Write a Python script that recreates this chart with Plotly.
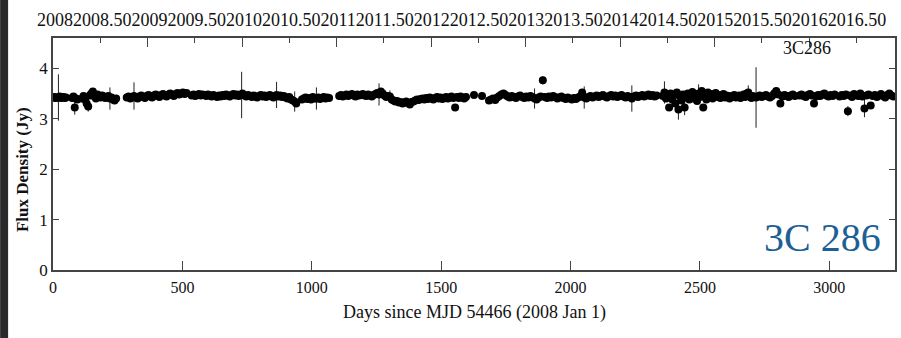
import plotly.graph_objects as go

# ---- data: (days since MJD 54466, flux density in Jy), per observing season ----
season_a = [(1,3.42),(6,3.43),(11,3.41),(16,3.42),(21,3.42),(26,3.44),(31,3.41),(36,3.42),(41,3.43),(46,3.41),(50,3.42)]
season_b = [(74,3.41),(79,3.44),(84,3.22),(89,3.40),(94,3.38)]
season_c = [(112,3.40),(118,3.45),(124,3.38),(130,3.30),(136,3.24),(142,3.46),(148,3.50),(154,3.54),(160,3.44),(166,3.40),
            (172,3.48),(178,3.45),(184,3.42),(190,3.46),(196,3.44),(202,3.41),(208,3.43),(214,3.45),(220,3.40),(226,3.42),
            (232,3.38),(238,3.36),(244,3.40)]
season_d = [(285,3.42),(292,3.44),(299,3.40),(306,3.43),(313,3.45),(320,3.42),(327,3.40),(334,3.44),(341,3.46),(348,3.43),
            (355,3.41),(362,3.45),(369,3.47),(376,3.44),(383,3.42),(390,3.46),(397,3.48),(404,3.45),(411,3.43),(418,3.47),
            (425,3.49),(432,3.46),(439,3.44),(446,3.48),(453,3.50),(460,3.47),(467,3.45),(474,3.49),(481,3.51),(488,3.48),
            (495,3.50),(502,3.52),(509,3.49),(516,3.51)]
season_e = [(536,3.46),(543,3.48),(550,3.45),(557,3.47),(564,3.49),(571,3.46),(578,3.48),(585,3.47),(592,3.45),(599,3.48),
            (606,3.46),(613,3.44),(620,3.47),(627,3.45),(634,3.43),(641,3.46),(648,3.44),(655,3.47),(662,3.45),(669,3.48),
            (676,3.46),(683,3.44),(690,3.47),(697,3.49),(704,3.46),(711,3.48),(718,3.45),(729,3.47),(732,3.50)]
season_f = [(740,3.46),(747,3.44),(754,3.47),(761,3.45),(768,3.43),(775,3.46),(782,3.44),(789,3.42),(796,3.45),(803,3.47),
            (810,3.44),(817,3.46),(824,3.43),(831,3.45),(838,3.47),(845,3.44),(852,3.42),(859,3.45),(864,3.47),(871,3.44),
            (878,3.46),(885,3.43),(892,3.45),(899,3.42),(906,3.40),(913,3.43),(920,3.38),(927,3.36),(934,3.34),(940,3.30)]
season_g = [(962,3.38),(969,3.40),(976,3.42),(983,3.39),(990,3.41),(997,3.38),(1004,3.43),(1011,3.40),(1018,3.40),(1025,3.42),
            (1032,3.39),(1039,3.41),(1046,3.43),(1053,3.40),(1060,3.42),(1067,3.41)]
season_h = [(1106,3.45),(1113,3.47),(1120,3.44),(1127,3.46),(1134,3.48),(1141,3.45),(1148,3.47),(1155,3.49),(1162,3.46),(1169,3.44),
            (1176,3.48),(1183,3.46),(1190,3.47),(1197,3.49),(1204,3.46),(1211,3.45),(1218,3.48),(1225,3.46),(1232,3.44),(1239,3.47),
            (1246,3.49),(1253,3.51),(1260,3.48),(1267,3.54),(1274,3.50),(1281,3.46),(1288,3.43),(1295,3.45),(1302,3.44),(1309,3.38),
            (1316,3.36),(1323,3.34),(1330,3.35),(1337,3.32),(1344,3.33),(1351,3.30),(1358,3.32),(1365,3.34),(1372,3.31),(1379,3.28),
            (1386,3.33)]
season_i = [(1393,3.34),(1400,3.36),(1407,3.38),(1414,3.37),(1421,3.39),(1428,3.40),(1435,3.38),(1442,3.41),(1449,3.39),(1456,3.42),
            (1463,3.40),(1470,3.38),(1477,3.41),(1484,3.43),(1491,3.40),(1498,3.42),(1505,3.39),(1512,3.41),(1519,3.43),(1526,3.40),
            (1533,3.42),(1540,3.44),(1547,3.41),(1554,3.22),(1561,3.43),(1568,3.41),(1575,3.44),(1582,3.42),(1589,3.40),(1596,3.43),
            (1627,3.47),(1658,3.45)]
season_j = [(1685,3.36),(1693,3.38),(1701,3.40),(1709,3.37),(1717,3.42),(1725,3.45),(1733,3.48),(1741,3.50),(1749,3.47),(1757,3.44),
            (1765,3.42),(1773,3.45),(1781,3.43),(1789,3.41),(1797,3.44),(1805,3.46),(1813,3.43),(1821,3.41),(1829,3.44),(1837,3.42),
            (1845,3.45),(1853,3.43),(1861,3.40),(1869,3.38),(1877,3.42),(1885,3.44),(1893,3.76),(1901,3.43),(1909,3.41),(1917,3.44),
            (1925,3.42),(1933,3.45),(1941,3.43),(1949,3.40),(1957,3.42),(1965,3.44),(1973,3.41),(1981,3.39),(1989,3.42),(1997,3.40),
            (2005,3.38),(2013,3.41),(2021,3.39),(2029,3.42),(2037,3.44),(2045,3.52),(2053,3.42),(2061,3.40),(2069,3.43),(2077,3.45),
            (2085,3.42),(2093,3.44),(2101,3.46),(2109,3.43),(2117,3.45),(2125,3.47),(2133,3.44),(2141,3.42),(2149,3.45),(2157,3.47),
            (2165,3.44),(2173,3.46),(2181,3.43),(2189,3.45),(2197,3.47),(2205,3.44),(2213,3.42),(2221,3.45),(2229,3.43),(2237,3.40),
            (2245,3.44),(2253,3.46),(2261,3.43),(2269,3.45),(2277,3.47),(2285,3.44),(2293,3.46),(2301,3.48),(2309,3.45),(2317,3.47),
            (2325,3.44),(2333,3.46)]
season_k = [(2357,3.45),(2363,3.52),(2369,3.40),(2375,3.48),(2381,3.22),(2387,3.50),(2393,3.38),(2399,3.46),(2405,3.30),(2411,3.52),
            (2417,3.18),(2423,3.44),(2429,3.36),(2435,3.48),(2441,3.22),(2447,3.42),(2453,3.50),(2459,3.38),(2465,3.46),(2471,3.53),
            (2477,3.40),(2483,3.48),(2489,3.35),(2495,3.50),(2501,3.43),(2507,3.55),(2513,3.22),(2519,3.47),(2525,3.38),(2531,3.52),
            (2537,3.44),(2543,3.49),(2549,3.40),(2555,3.46),(2561,3.51),(2567,3.43),(2573,3.47),(2579,3.41),(2585,3.45),(2591,3.49),
            (2597,3.42),(2603,3.46),(2609,3.44),(2615,3.40),(2621,3.45),(2627,3.43),(2633,3.47),(2639,3.42),(2645,3.44),(2651,3.46),
            (2657,3.41),(2663,3.45),(2669,3.48),(2675,3.43),(2681,3.50),(2687,3.52),(2693,3.44),(2699,3.41),(2705,3.45),(2711,3.43),
            (2717,3.42)]
season_l = [(2723,3.44),(2731,3.46),(2739,3.43),(2747,3.45),(2755,3.47),(2763,3.44),(2771,3.42),(2779,3.45),(2787,3.50),(2795,3.55),
            (2803,3.48),(2811,3.30),(2819,3.44),(2827,3.47),(2835,3.45),(2843,3.43),(2851,3.46),(2859,3.48),(2867,3.45)]
season_m = [(2885,3.46),(2893,3.48),(2901,3.45),(2909,3.43),(2917,3.47),(2925,3.49),(2933,3.46),(2941,3.30),(2949,3.44),(2957,3.47),
            (2965,3.45),(2973,3.48),(2981,3.50),(2989,3.46),(2997,3.44),(3005,3.47),(3013,3.45),(3021,3.48)]
season_n = [(3040,3.44),(3048,3.47),(3056,3.45),(3064,3.48),(3072,3.15),(3080,3.46),(3088,3.43),(3096,3.49),(3104,3.47),(3112,3.45),
            (3120,3.50),(3128,3.44),(3136,3.20),(3144,3.46),(3152,3.48),(3160,3.26),(3168,3.45),(3176,3.47),(3184,3.43),(3192,3.46),
            (3200,3.49),(3208,3.45),(3216,3.42),(3224,3.47),(3232,3.50),(3240,3.46),(3248,3.44)]

typical_err = 0.03
large_err = {21:0.46, 84:0.14, 136:0.10, 220:0.22, 313:0.27, 729:0.46, 864:0.26, 934:0.20, 1018:0.22,
             1260:0.22, 1302:0.12, 1554:0.06, 1861:0.20, 1893:0.08, 2053:0.22, 2237:0.26, 2363:0.22,
             2417:0.20, 2441:0.15, 2495:0.18, 2687:0.14, 2717:0.60, 3072:0.10, 3136:0.17}

top_tick_years = [2008, 2009, 2010, 2011, 2012, 2013, 2014, 2015, 2016]
top_tick_labels = ["2008","2008.50","2009","2009.50","2010","2010.50","2011","2011.50","2012","2012.50",
                   "2013","2013.50","2014","2014.50","2015","2015.50","2016","2016.50"]
x_ticks = [0, 500, 1000, 1500, 2000, 2500, 3000]
y_ticks = [0, 1, 2, 3, 4]
source_name = "3C 286"
source_label = "3C286"

seasons = [season_a, season_b, season_c, season_d, season_e, season_f, season_g, season_h,
           season_i, season_j, season_k, season_l, season_m, season_n]
days = [d for s in seasons for d, _ in s]
flux = [f for s in seasons for _, f in s]
err = [large_err.get(d, typical_err) for d in days]

X_MAX = 3254
SERIF = "Liberation Serif"

fig = go.Figure()
fig.add_trace(go.Scatter(
    x=days, y=flux, mode="markers",
    marker=dict(color="black", size=8, line=dict(width=0)),
    error_y=dict(type="data", array=err, visible=True, color="#222", thickness=1, width=0),
    showlegend=False, hoverinfo="x+y"))
# invisible trace to carry the top (year) axis
fig.add_trace(go.Scatter(x=[2008, 2008 + X_MAX / 365.25], y=[None, None], xaxis="x2",
                         mode="markers", showlegend=False, hoverinfo="skip"))

axis_col = "#444"
fig.update_layout(
    width=901, height=338,
    margin=dict(l=53, r=4, t=38, b=68),
    paper_bgcolor="white", plot_bgcolor="white",
    font=dict(family=SERIF, color="#111"),
    xaxis=dict(range=[0, X_MAX], tickvals=x_ticks, ticks="inside", ticklen=9, tickwidth=1.2,
               tickcolor=axis_col, showline=True, linecolor=axis_col, linewidth=1.8,
               showgrid=False, zeroline=False, tickfont=dict(family=SERIF, size=16, color="#111"),
               ticklabelstandoff=2),
    xaxis2=dict(overlaying="x", side="top", range=[2008, 2008 + X_MAX / 365.25],
                tickvals=top_tick_years, ticks="inside", ticklen=9, tickwidth=1.2, tickcolor=axis_col,
                minor=dict(dtick=0.5, tick0=2008, ticks="inside", ticklen=5, tickcolor=axis_col, tickwidth=1.2),
                showticklabels=False, showline=True, linecolor=axis_col, linewidth=1.8,
                showgrid=False, zeroline=False),
    yaxis=dict(range=[0, 4.6], tickvals=y_ticks, ticks="inside", ticklen=6, tickwidth=1.2,
               tickcolor=axis_col, showline=True, linecolor=axis_col, linewidth=1.8, mirror="ticks",
               showgrid=False, zeroline=False, tickfont=dict(family=SERIF, size=17, color="#111")),
    shapes=[dict(type="rect", xref="paper", yref="paper", x0=-53/844, x1=-45/844,
                 y0=-68/232, y1=270/232, fillcolor="#2a2a2a", line=dict(width=0), layer="above")],
    annotations=[
        dict(text="".join(top_tick_labels), xref="paper", yref="paper", x=(462-53)/844, y=1 + 18/232,
             xanchor="center", yanchor="middle", showarrow=False,
             font=dict(family=SERIF, size=18, color="#111")),
        dict(text=source_label, xref="paper", yref="paper", x=(809-53)/844, y=(270-48)/232,
             xanchor="center", yanchor="middle", showarrow=False,
             font=dict(family=SERIF, size=18, color="#111")),
        dict(text=source_name, xref="paper", yref="paper", x=(824-53)/844, y=(270-237)/232,
             xanchor="center", yanchor="middle", showarrow=False,
             font=dict(family=SERIF, size=40, color="#1d6096")),
        dict(text="Days since MJD 54466 (2008 Jan 1)", xref="paper", yref="paper",
             x=(475-53)/844, y=(270-312)/232, xanchor="center", yanchor="middle", showarrow=False,
             font=dict(family=SERIF, size=18, color="#111")),
        dict(text="<b>Flux Density (Jy)</b>", xref="paper", yref="paper",
             x=(22-53)/844, y=(270-170)/232, xanchor="center", yanchor="middle", showarrow=False,
             textangle=-90, font=dict(family=SERIF, size=17, color="#111")),
    ],
)

fig.write_html("out.html")
